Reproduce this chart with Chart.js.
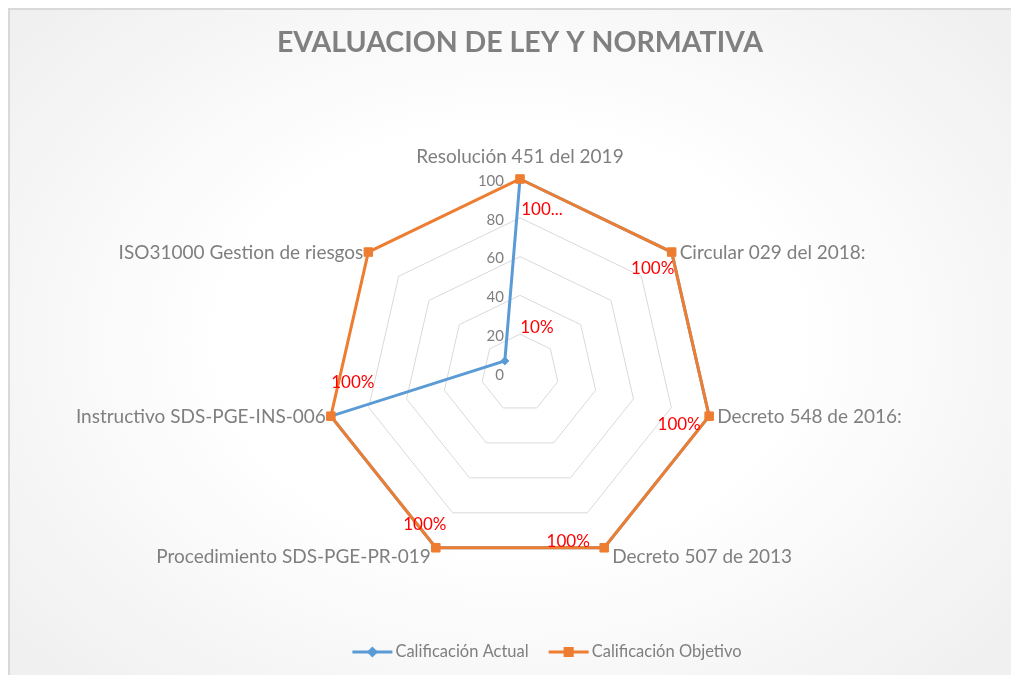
<!DOCTYPE html>
<html>
<head>
<meta charset="utf-8">
<script src="https://cdn.jsdelivr.net/npm/chart.js@4.4.0/dist/chart.umd.min.js"></script>
<style>
  html, body { margin: 0; padding: 0; background: #fff; overflow: hidden; width: 1011px; height: 675px; }
  #frame {
    position: absolute; left: 8px; top: 8px; width: 1100px; height: 760px;
    border-left: 2px solid #d9d9d9; border-top: 2px solid #d9d9d9;
    background: radial-gradient(ellipse 640px 470px at 500px 330px, #ffffff 45%, #f0f0f0 100%);
  }
  #wrap { position: absolute; left: 0; top: 0; width: 1011px; height: 675px; }
</style>
</head>
<body>
<div id="frame"></div>
<div id="wrap"><canvas id="myChart"></canvas></div>
<script>
const categories = [
  'Resolución 451 del 2019',
  'Circular 029 del 2018:',
  'Decreto 548 de 2016:',
  'Decreto 507 de 2013',
  'Procedimiento SDS-PGE-PR-019',
  'Instructivo SDS-PGE-INS-006',
  'ISO31000 Gestion de riesgos'
];
const actual = [100, 100, 100, 100, 100, 100, 10];
const target = [100, 100, 100, 100, 100, 100, 100];
const actualLabels = ['100...', '100%', '100%', '100%', '100%', '100%', '10%'];
const seriesNames = ['Calificación Actual', 'Calificación Objetivo'];
const tickValues = [0, 20, 40, 60, 80, 100];

const BLUE = '#5B9BD5';
const ORANGE = '#ED7D31';
const GRAY = '#7f7f7f';
const FONT = 'Lato, "Open Sans", sans-serif';

// offsets of the red value labels from their point (Excel placed them by hand)
const labelShift = [[22, 31], [-19, 16], [-30, 8], [-36, -6], [-11, -23], [22, -34], [32, -33]];

const excelBits = {
  id: 'excelBits',
  afterDraw(chart) {
    const ctx = chart.ctx;
    const r = chart.scales.r;
    ctx.save();

    // tick numbers, left of the vertical axis
    ctx.font = '15px ' + FONT;
    ctx.fillStyle = GRAY;
    ctx.textAlign = 'right';
    ctx.textBaseline = 'middle';
    tickValues.forEach(v => {
      const y = r.yCenter - r.getDistanceFromCenterForValue(v);
      ctx.fillText(String(v), r.xCenter - 16, y + 2);
    });

    // category names next to the outer ring
    ctx.font = '19px ' + FONT;
    categories.forEach((name, i) => {
      const p = r.getPointPositionForValue(i, r.max);
      const dx = p.x - r.xCenter;
      const dy = p.y - r.yCenter;
      if (Math.abs(dx) < 2) {
        ctx.textAlign = 'center';
        ctx.fillText(name, p.x, p.y - 22);
        return;
      }
      ctx.textAlign = dx > 0 ? 'left' : 'right';
      const x = p.x + (dx > 0 ? 8 : -5);
      const y = p.y + (dy > r.drawingArea * 0.8 ? 9 : 1);
      ctx.fillText(name, x, y);
    });

    // red value labels of the first series
    const meta = chart.getDatasetMeta(0);
    ctx.font = '17px ' + FONT;
    ctx.fillStyle = '#ff0000';
    ctx.textAlign = 'center';
    meta.data.forEach((pt, i) => {
      ctx.fillText(actualLabels[i], pt.x + labelShift[i][0], pt.y + labelShift[i][1]);
    });

    // legend at the bottom
    ctx.font = '16.5px ' + FONT;
    ctx.fillStyle = GRAY;
    ctx.textAlign = 'left';
    const colors = [BLUE, ORANGE];
    const styles = ['rectRot', 'rect'];
    const radii = [3.5, 5];
    const widths = seriesNames.map(s => ctx.measureText(s).width);
    const total = widths[0] + widths[1] + 2 * 43 + 20;
    let x = 547 - total / 2;
    const y = 652;
    seriesNames.forEach((s, i) => {
      ctx.strokeStyle = colors[i];
      ctx.lineWidth = 3;
      ctx.beginPath();
      ctx.moveTo(x, y);
      ctx.lineTo(x + 40, y);
      ctx.stroke();
      ctx.fillStyle = colors[i];
      Chart.helpers.drawPoint(ctx, { pointStyle: styles[i], radius: radii[i], borderWidth: 1 }, x + 20, y);
      ctx.fillStyle = GRAY;
      ctx.fillText(s, x + 43, y);
      x += 43 + widths[i] + 20;
    });

    ctx.restore();
  }
};

new Chart(document.getElementById('myChart'), {
  type: 'radar',
  data: {
    labels: categories,
    datasets: [
      {
        label: seriesNames[0],
        data: actual,
        order: 1,
        borderColor: BLUE,
        backgroundColor: BLUE,
        borderWidth: 3,
        fill: false,
        pointStyle: 'rectRot',
        pointRadius: 4,
        pointBorderWidth: 1
      },
      {
        label: seriesNames[1],
        data: target,
        order: 0,
        borderColor: ORANGE,
        backgroundColor: ORANGE,
        borderWidth: 3,
        fill: false,
        pointStyle: 'rect',
        pointRadius: 6,
        pointBorderWidth: 1
      }
    ]
  },
  options: {
    responsive: true,
    maintainAspectRatio: false,
    animation: false,
    devicePixelRatio: 1,
    layout: { padding: { top: 0, bottom: 107, left: 120, right: 91 } },
    plugins: {
      legend: { display: false },
      tooltip: { enabled: false },
      title: {
        display: true,
        text: 'EVALUACION DE LEY Y NORMATIVA',
        color: '#808080',
        font: { family: FONT, size: 28.5, weight: 'bold' },
        padding: { top: 26, bottom: 118 }
      }
    },
    scales: {
      r: {
        min: 0,
        max: 100,
        ticks: { stepSize: 20, display: false },
        angleLines: { display: false },
        grid: { color: '#d9d9d9', lineWidth: 1 },
        pointLabels: { display: false }
      }
    }
  },
  plugins: [excelBits]
});
</script>
</body>
</html>
